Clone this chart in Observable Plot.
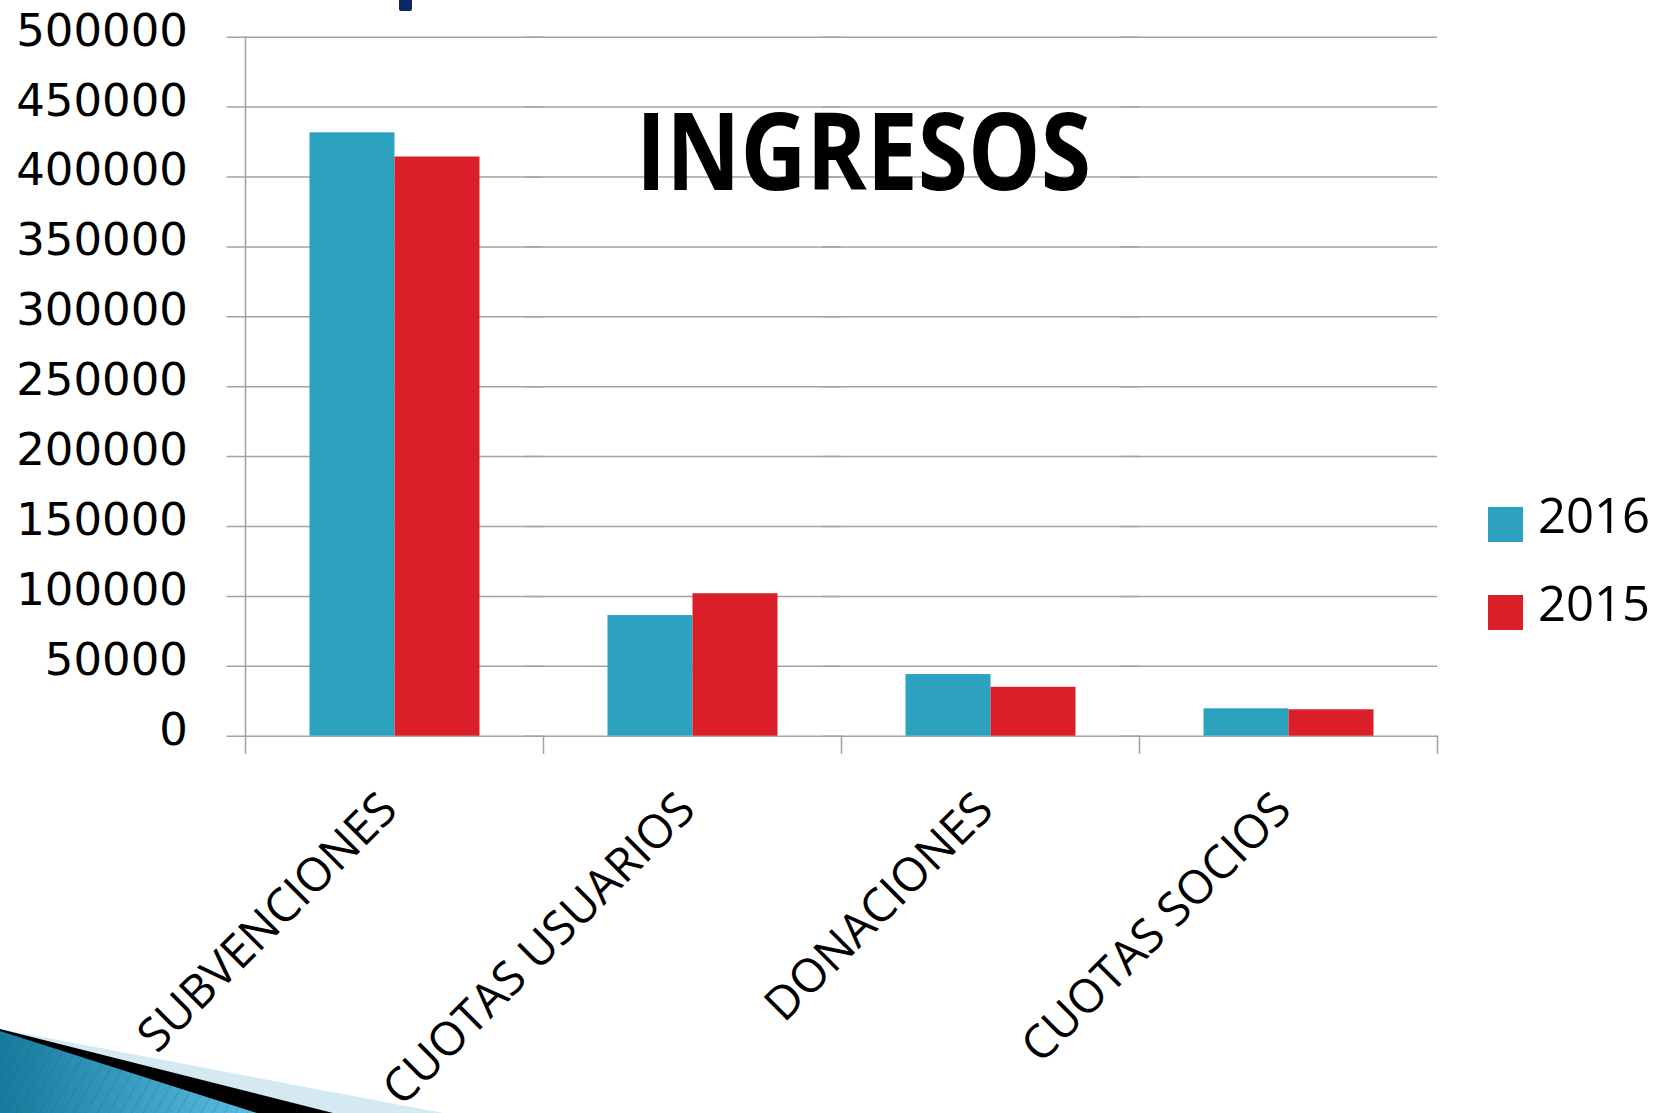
<!DOCTYPE html>
<html>
<head>
<meta charset="utf-8">
<script src="https://cdn.jsdelivr.net/npm/d3@7"></script>
<script src="https://cdn.jsdelivr.net/npm/@observablehq/plot@0.6"></script>
<style>
  html, body { margin: 0; padding: 0; background: #fff; overflow: hidden; }
  #stage { position: relative; width: 1669px; height: 1113px; }
  #stage > * { position: absolute; left: 0; top: 0; }
  .leg { position: absolute; font-family: "Open Sans", sans-serif; font-size: 49px; color: #000; line-height: 1; }
  .sw { position: absolute; width: 35px; height: 35px; }
</style>
</head>
<body>
<div id="stage">
  <svg id="deco" width="1669" height="1113">
    <defs>
      <linearGradient id="bg" x1="0" y1="0" x2="1" y2="0">
        <stop offset="0" stop-color="#17799b"/>
        <stop offset="1" stop-color="#5cbfe3"/>
      </linearGradient>
      <pattern id="stripes" width="10" height="10" patternUnits="userSpaceOnUse" patternTransform="rotate(30)">
        <rect width="10" height="10" fill="none"/>
        <line x1="0" y1="0" x2="0" y2="10" stroke="#0e5f7c" stroke-opacity="0.25" stroke-width="2"/>
      </pattern>
    </defs>
    <polygon points="0,1029 443,1113 0,1113" fill="#d5e9f2"/>
    <polygon points="0,1029 333,1113 0,1113" fill="#000"/>
    <polygon points="0,1031 257,1113 0,1113" fill="url(#bg)"/>
    <polygon points="0,1031 257,1113 0,1113" fill="url(#stripes)"/>
    <rect x="399" y="-4" width="13" height="15" rx="2" fill="#0c2766"/>
  </svg>
</div>
<script>
// ---- data ----
const categories = ["SUBVENCIONES", "CUOTAS USUARIOS", "DONACIONES", "CUOTAS SOCIOS"];
const years = ["2016", "2015"];
const values2016 = [431600, 86300, 44100, 19600];
const values2015 = [414300, 101900, 35000, 18900];
const yTicks = [0, 50000, 100000, 150000, 200000, 250000, 300000, 350000, 400000, 450000, 500000];
const colors = ["#2ca2bf", "#da1f29"];
const title = "INGRESOS";

const data = [];
categories.forEach((c, i) => {
  data.push({category: c, year: years[0], value: values2016[i]});
  data.push({category: c, year: years[1], value: values2015[i]});
});

const gray = "#a3a3a3";

const chart = Plot.plot({
  width: 1669,
  height: 1113,
  marginLeft: 244.5,
  marginRight: 232.3,
  marginTop: 36.7,
  marginBottom: 377.3,
  style: {background: "transparent", fontFamily: "DejaVu Sans, sans-serif", fontSize: "44px", color: "#000", overflow: "visible"},
  fx: {domain: categories, padding: 0, axis: null, label: null},
  x: {domain: years, paddingInner: 0, paddingOuter: 0.75, axis: null, label: null},
  y: {domain: [0, 500000], axis: null, label: null},
  color: {domain: years, range: colors},
  marks: [
    Plot.gridY(yTicks, {stroke: gray, strokeOpacity: 1, strokeWidth: 1.5, insetLeft: -18.5}),
    Plot.axisY(yTicks, {label: null, tickSize: 0, tickPadding: 57.5, fontSize: 45, fontFamily: "DejaVu Sans", fill: "#000", dy: -6, tickFormat: d => String(d)}),
    Plot.barY(data, {fx: "category", x: "year", y: "value", fill: "year", inset: 0}),
    Plot.frame({anchor: "left", facetAnchor: "left", insetBottom: -17, stroke: gray, strokeWidth: 1.5}),
    Plot.frame({anchor: "right", insetTop: 699, insetBottom: -17, stroke: gray, strokeWidth: 1.5}),
    Plot.text(categories, {fx: d => d, text: d => d, frameAnchor: "bottom", rotate: -45, textAnchor: "end", lineAnchor: "bottom", dx: 5, dy: 76, fontSize: 46.5, fontFamily: "Open Sans", fill: "#000"})
  ]
});

const stage = document.getElementById("stage");
stage.appendChild(chart);

// Title overlay
const ns = "http://www.w3.org/2000/svg";
const tsvg = document.createElementNS(ns, "svg");
tsvg.setAttribute("width", 1669);
tsvg.setAttribute("height", 1113);
tsvg.style.pointerEvents = "none";
const t = document.createElementNS(ns, "text");
t.setAttribute("x", 636);
t.setAttribute("y", 190);
t.setAttribute("font-family", "Open Sans");
t.setAttribute("font-weight", "700");
t.setAttribute("font-size", 108);
t.setAttribute("textLength", 455);
t.setAttribute("lengthAdjust", "spacingAndGlyphs");
t.textContent = title;
tsvg.appendChild(t);
stage.appendChild(tsvg);

// Legend
years.forEach((yr, i) => {
  const sw = document.createElement("div");
  sw.className = "sw";
  sw.style.left = "1488px";
  sw.style.top = (507 + i * 88) + "px";
  sw.style.background = colors[i];
  stage.appendChild(sw);
  const lb = document.createElement("div");
  lb.className = "leg";
  lb.style.left = "1538px";
  lb.style.top = (490 + i * 88) + "px";
  lb.textContent = yr;
  stage.appendChild(lb);
});
</script>
</body>
</html>
